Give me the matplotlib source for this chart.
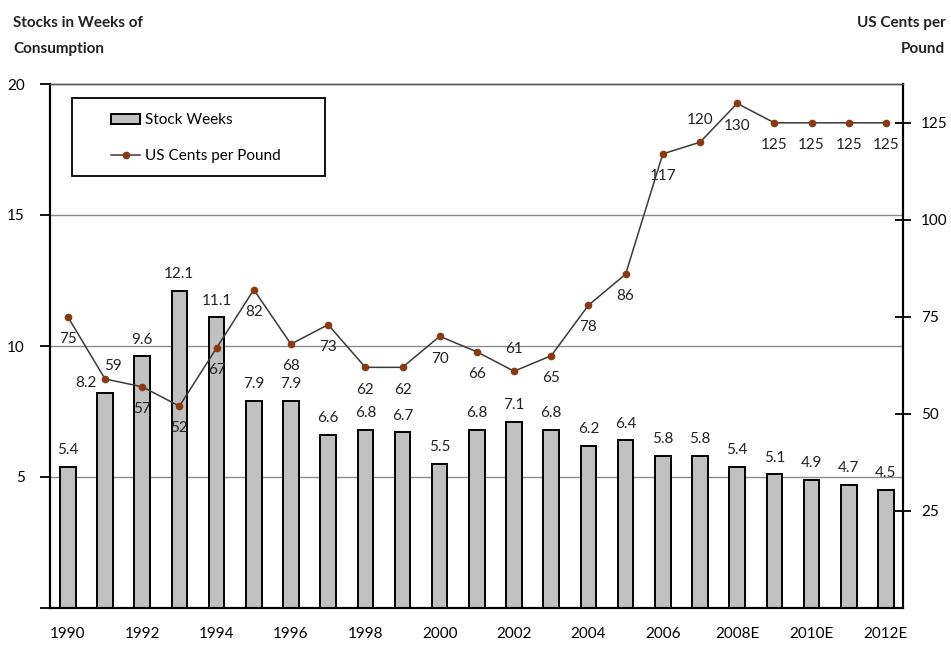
import numpy as np
import matplotlib.pyplot as plt
from matplotlib.patches import Rectangle

plt.rcParams['font.family'] = ['Lato', 'DejaVu Sans']

# Data
years = ["1990", "1991", "1992", "1993", "1994", "1995", "1996", "1997", "1998",
         "1999", "2000", "2001", "2002", "2003", "2004", "2005", "2006", "2007",
         "2008E", "2009E", "2010E", "2011E", "2012E"]
stock_weeks = [5.4, 8.2, 9.6, 12.1, 11.1, 7.9, 7.9, 6.6, 6.8, 6.7, 5.5, 6.8,
               7.1, 6.8, 6.2, 6.4, 5.8, 5.8, 5.4, 5.1, 4.9, 4.7, 4.5]
cents_per_pound = [75, 59, 57, 52, 67, 82, 68, 73, 62, 62, 70, 66, 61, 65,
                   78, 86, 117, 120, 130, 125, 125, 125, 125]
left_ticks = [0, 5, 10, 15, 20]
left_ticklabels = ["", "5", "10", "15", "20"]
right_ticks = [25, 50, 75, 100, 125]

# label placement for the price series (below / above the point)
price_label_pos = ["below", "above", "below", "below", "below", "below", "below",
                   "below", "below", "below", "below", "below", "above", "below",
                   "below", "below", "below", "above", "below", "below", "below",
                   "below", "below"]

BAR_COLOR = "#c0c0c0"
DOT_COLOR = "#8a3a10"
LINE_COLOR = "#3a3a3a"
GRID_COLOR = "#8c8c8c"
TXT = "#222222"
FS = 11

fig = plt.figure(figsize=(9.51, 6.46), dpi=100)
ax = fig.add_axes([50 / 951, 38 / 646, 853 / 951, 524 / 646])
ax2 = ax.twinx()

x = np.arange(len(years))

# gridlines
for v in left_ticks[1:-1]:
    ax.axhline(v, color=GRID_COLOR, lw=1.0, zorder=0)

bars = ax.bar(x, stock_weeks, width=0.42, color=BAR_COLOR, edgecolor="black",
              linewidth=1.4, zorder=2, label="Stock Weeks")

for i, v in enumerate(stock_weeks):
    if i == 1:
        dx, dy = -14, 7
    else:
        dx, dy = 0, 12
    ax.annotate(f"{v:.1f}", (x[i], v), xytext=(dx, dy), textcoords="offset points",
                ha="center", va="center", fontsize=FS, color=TXT, zorder=5)

line, = ax2.plot(x, cents_per_pound, color=LINE_COLOR, lw=1.1, marker="o",
                 markersize=4.5, markerfacecolor=DOT_COLOR, markeredgecolor=DOT_COLOR,
                 zorder=4, label="US Cents per Pound")

for i, v in enumerate(cents_per_pound):
    if price_label_pos[i] == "above":
        if i == 1:
            dx, dy = 6, 9
        else:
            dx, dy = 0, 16
    else:
        dx, dy = 0, -16
    ax2.annotate(str(v), (x[i], v), xytext=(dx, dy), textcoords="offset points",
                 ha="center", va="center", fontsize=FS, color=TXT)

ax.set_xlim(-0.48, 22.46)
ax.set_ylim(0, 20)
ax2.set_ylim(0, 135)

ax.set_xticks(x[::2])
ax.set_xticklabels(years[::2], fontsize=FS)
ax.tick_params(axis="x", length=0, pad=14)

ax.set_yticks(left_ticks)
ax.set_yticklabels(left_ticklabels, fontsize=FS)
ax.tick_params(axis="y", direction="out", length=7, width=1.3, pad=11)

ax2.set_yticks(right_ticks)
ax2.set_yticklabels([str(t) for t in right_ticks], fontsize=FS)
ax2.tick_params(axis="y", direction="inout", length=12, width=1.3, pad=7)

for a in (ax, ax2):
    a.spines["top"].set_color("#555555")
    a.spines["top"].set_linewidth(1.0)
    a.spines["left"].set_linewidth(1.5)
    a.spines["right"].set_linewidth(1.5)
    a.spines["bottom"].set_linewidth(1.5)

ax.set_zorder(ax2.get_zorder() - 1)
ax.patch.set_visible(False)

# legend: frame drawn separately so the padding matches the original
ax2.add_patch(Rectangle((0.0258, 0.824), 0.2966, 0.149, transform=ax2.transAxes,
                        facecolor="white", edgecolor="black", linewidth=1.3,
                        zorder=9))
leg = ax2.legend([bars, line], ["Stock Weeks", "US Cents per Pound"],
                 loc="upper left", bbox_to_anchor=(0.0715, 0.944), fontsize=FS,
                 frameon=False, borderpad=0, labelspacing=1.45, handlelength=1.9,
                 handletextpad=0.35, borderaxespad=0)
leg.set_zorder(10)

fig.text(13 / 951, 0.975, "Stocks in Weeks of\nConsumption", ha="left", va="top",
         fontsize=FS, fontweight="bold", linespacing=2.1, color=TXT)
fig.text(0.994, 0.975, "US Cents per\nPound", ha="right", va="top",
         fontsize=FS, fontweight="bold", linespacing=2.1, color=TXT)

fig.savefig("out.png", dpi=100)
